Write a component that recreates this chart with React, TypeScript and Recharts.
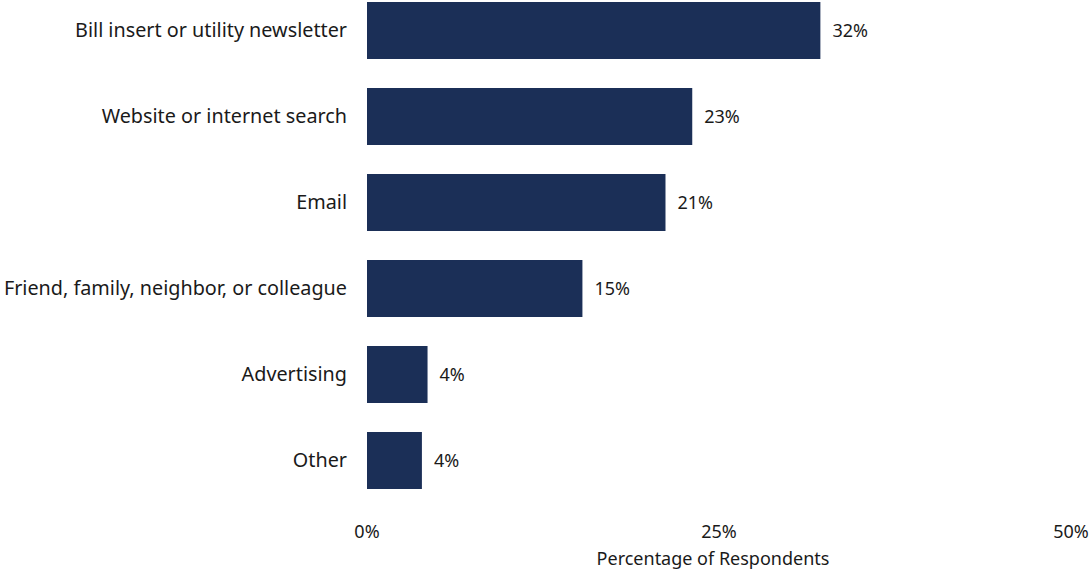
import { BarChart, Bar, XAxis, YAxis, LabelList, Label } from "recharts";

const categories = [
  "Bill insert or utility newsletter",
  "Website or internet search",
  "Email",
  "Friend, family, neighbor, or colleague",
  "Advertising",
  "Other",
];
const percentages = [32.2, 23.1, 21.2, 15.3, 4.3, 3.9];
const xTicks = [0, 25, 50];

const data = categories.map((name, i) => ({ name, value: percentages[i] }));

const FONT = "'Noto Sans', sans-serif";
const TEXT = "#1a1a1a";
const BAR = "#1b2f57";

export default function App() {
  return (
    <div style={{ position: "absolute", left: 0, top: -13 }}>
      <BarChart
        width={1090}
        height={584}
        data={data}
        layout="vertical"
        margin={{ top: 0, right: 19, bottom: 0, left: 0 }}
        barSize={57}
        style={{ fontFamily: FONT }}
      >
        <XAxis
          type="number"
          domain={[0, 50]}
          ticks={xTicks}
          tickFormatter={(v) => `${v}%`}
          axisLine={false}
          tickLine={false}
          tickMargin={16}
          height={68}
          tick={{ fill: TEXT, fontSize: 18, fontFamily: FONT }}
        >
          <Label
            value="Percentage of Respondents"
            position="insideBottom"
            offset={6}
            dx={-6}
            style={{ fill: TEXT, fontSize: 18, fontFamily: FONT }}
          />
        </XAxis>
        <YAxis
          type="category"
          dataKey="name"
          width={367}
          axisLine={false}
          tickLine={false}
          tickMargin={14}
          interval={0}
          tick={{ fill: TEXT, fontSize: 19.8, fontFamily: FONT }}
        />
        <Bar dataKey="value" fill={BAR} isAnimationActive={false}>
          <LabelList
            dataKey="value"
            position="right"
            offset={12}
            formatter={(v: number) => `${Math.round(v)}%`}
            style={{ fill: TEXT, fontSize: 18, fontFamily: FONT }}
          />
        </Bar>
      </BarChart>
    </div>
  );
}
